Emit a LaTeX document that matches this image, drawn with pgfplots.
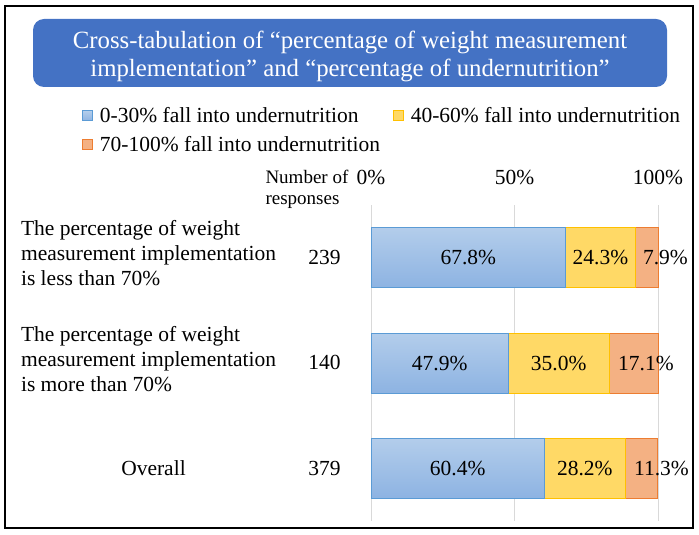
\documentclass[border=0pt]{standalone}
\usepackage{pgfplots}
\pgfplotsset{compat=1.18}
\usepackage{fontspec}
\setmainfont{Liberation Serif}
\definecolor{titleblue}{HTML}{4472C4}
\definecolor{blueTop}{HTML}{B3CDEB}
\definecolor{blueBot}{HTML}{8DB3E2}
\definecolor{blueEdge}{HTML}{5B9BD5}
\definecolor{yelFill}{HTML}{FFD966}
\definecolor{yelEdge}{HTML}{FFC000}
\definecolor{orFill}{HTML}{F4B183}
\definecolor{orEdge}{HTML}{ED7D31}
\definecolor{gridgray}{HTML}{D9D9D9}
% one gradient per bar: the three blue bars form one path
\pgfdeclareverticalshading{blueStripes}{100bp}{%
  color(0bp)=(blueBot); color(25bp)=(blueBot); color(36.08bp)=(blueTop);
  color(44.46bp)=(blueBot); color(55.54bp)=(blueTop);
  color(63.92bp)=(blueBot); color(75bp)=(blueTop); color(100bp)=(blueTop)}
\pgfdeclareverticalshading{blueSingle}{100bp}{%
  color(0bp)=(blueBot); color(25bp)=(blueBot); color(75bp)=(blueTop); color(100bp)=(blueTop)}
\newcommand{\mainfs}{\fontsize{21.5bp}{25bp}\selectfont}
\newcommand{\titlefs}{\fontsize{24.8bp}{28bp}\selectfont}
\newcommand{\smallfs}{\fontsize{19bp}{21bp}\selectfont}
\pgfplotstableread{
x y l
33.9 0 67.8
79.95 0 24.3
102.6 0 7.9
23.95 1 47.9
65.4 1 35.0
95.8 1 17.1
30.2 2 60.4
74.5 2 28.2
101.2 2 11.3
}\labeltable
\begin{document}
\begin{tikzpicture}
\begin{scope}[x=1bp,y=-1bp]
\path[use as bounding box] (0,0) rectangle (699,535);
\draw[line width=2.5bp] (5,6) rectangle (693,528);
\fill[titleblue, rounded corners=11bp] (33,19) rectangle (667,87);
\node[inner sep=0pt, text=white, align=center, font=\titlefs] at (350,56)
  {Cross-tabulation of “percentage of weight measurement\\implementation” and “percentage of undernutrition”};
% left labels
\node[align=left, anchor=center, font=\mainfs] at (148.5,253.5)
  {The percentage of weight\\measurement implementation\\is less than 70\%};
\node[align=left, anchor=center, font=\mainfs] at (148.5,359)
  {The percentage of weight\\measurement implementation\\is more than 70\%};
\node[font=\mainfs] at (153.5,468) {Overall};
\node[font=\mainfs] at (324.5,257.7) {239};
\node[font=\mainfs] at (324.5,362.5) {140};
\node[font=\mainfs] at (324.5,468) {379};
\node[align=left, anchor=west, font=\smallfs] at (262,189.5) {Number of\\responses};
\end{scope}
\begin{axis}[
  at={(371bp,-521bp)}, anchor=south west,
  scale only axis, width=287bp, height=316bp,
  xmin=0, xmax=100, ymin=-0.5, ymax=2.5, y dir=reverse,
  xbar stacked, bar width=60bp,
  axis line style={draw=none},
  ytick=\empty,
  xtick={0,50,100}, xticklabels={0\%,50\%,100\%},
  xticklabel pos=upper, major tick length=0pt,
  xticklabel style={font=\mainfs, yshift=17bp},
  xmajorgrids, grid style={gridgray, line width=0.8bp},
  clip=false,
  legend columns=2,
  legend cell align=left,
  legend image code/.code={\draw[#1, line width=0.8bp] (0bp,-5bp) rectangle (10bp,5bp);},
  legend style={draw=none, fill=none, font=\mainfs, inner sep=0pt,
    nodes={inner xsep=7bp, inner ysep=0pt},
    row sep=12bp,
    at={(axis description cs:-1.007,1.309)}, anchor=north west,
    /tikz/every even column/.append style={column sep=6bp}},
]
\addplot[shade, shading=blueStripes, draw=blueEdge, line width=0.8bp,
  legend image code/.code={\draw[shade, shading=blueSingle, draw=blueEdge, line width=0.8bp] (0bp,-5bp) rectangle (10bp,5bp);}]
  coordinates {(67.8,0) (47.9,1) (60.4,2)};
\addplot[fill=yelFill, draw=yelEdge, line width=0.8bp]
  coordinates {(24.3,0) (35.0,1) (28.2,2)};
\addplot[fill=orFill, draw=orEdge, line width=0.8bp]
  coordinates {(7.9,0) (17.1,1) (11.3,2)};
\legend{0-30\% fall into undernutrition, 40-60\% fall into undernutrition, 70-100\% fall into undernutrition}
\end{axis}
\begin{axis}[
  at={(371bp,-521bp)}, anchor=south west,
  scale only axis, width=287bp, height=316bp,
  xmin=0, xmax=100, ymin=-0.5, ymax=2.5, y dir=reverse,
  hide axis, clip=false,
]
\addplot[draw=none, mark=none, nodes near coords={\pgfplotspointmeta\%},
  point meta=explicit symbolic,
  every node near coord/.style={anchor=center, font=\mainfs, inner sep=0pt}]
  table[x=x, y=y, meta=l] {\labeltable};
\end{axis}
\end{tikzpicture}
\end{document}
